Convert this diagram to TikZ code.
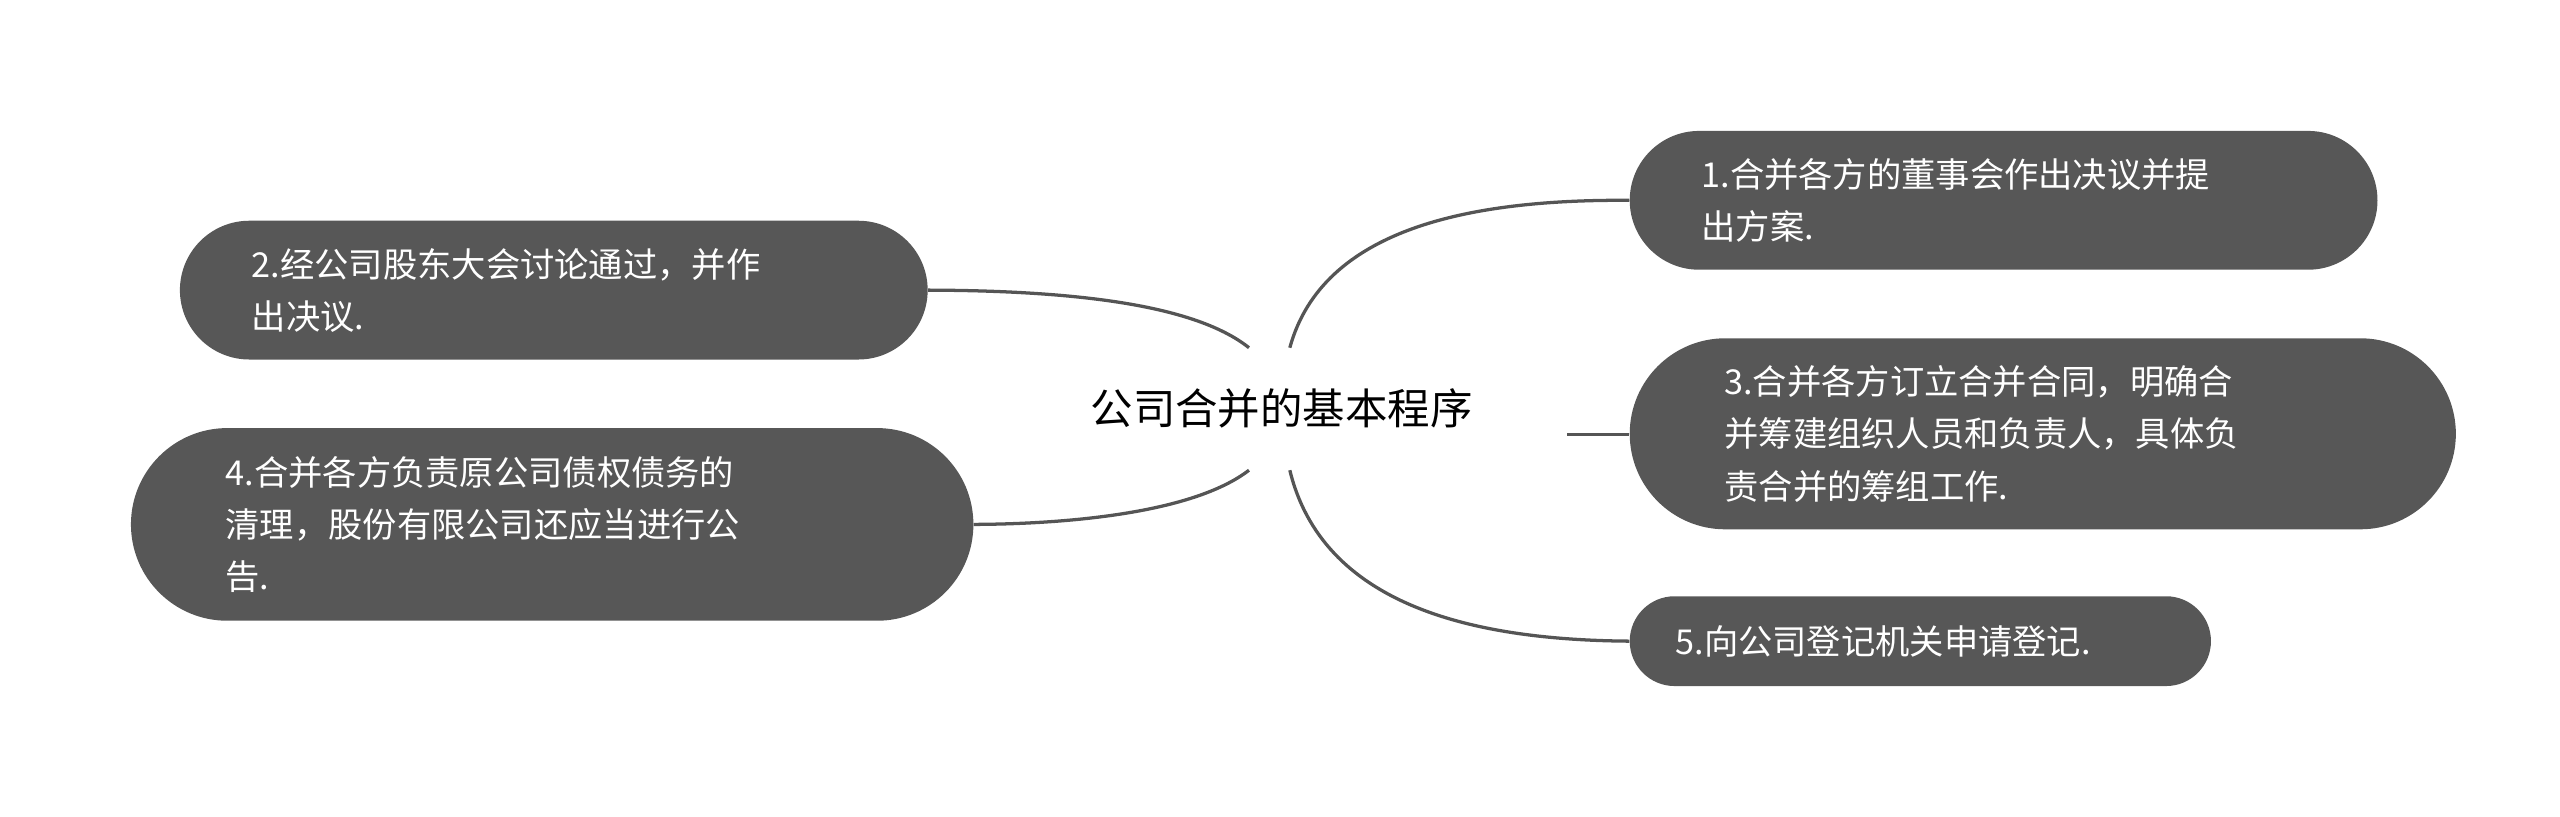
\documentclass[tikz,border=0pt]{standalone}
\usepackage{fontspec}
\setmainfont{Noto Sans CJK SC}
\begin{document}
\begin{tikzpicture}[x=1pt,y=-1pt,
  pill/.style={fill=boxgray,text=white,anchor=north west,align=left,inner ysep=0pt,
    font=\fontsize{21}{32}\selectfont},
  conn/.style={draw=linegray,line width=2pt}]
\definecolor{boxgray}{HTML}{575757}
\definecolor{linegray}{HTML}{555555}
\useasboundingbox (0,0) rectangle (1568,500);
\node[pill,minimum width=458,minimum height=85,text width=370,inner xsep=44,rounded corners=42.5] (n1) at (998,80) {1.合并各方的董事会作出决议并提\\出方案.};
\node[pill,minimum width=458,minimum height=85,text width=370,inner xsep=44,rounded corners=42.5] (n2) at (110,135) {2.经公司股东大会讨论通过，并作\\出决议.};
\node[pill,minimum width=490,minimum height=117,text width=390,inner xsep=58,rounded corners=58.5] (n3) at (998,207) {3.合并各方订立合并合同，明确合\\并筹建组织人员和负责人，具体负\\责合并的筹组工作.};
\node[pill,minimum width=488,minimum height=118,text width=400,inner xsep=58,rounded corners=59] (n4) at (80,262) {4.合并各方负责原公司债权债务的\\清理，股份有限公司还应当进行公\\告.};
\node[pill,minimum width=342,minimum height=55,text width=300,inner xsep=28,rounded corners=27.5] (n5) at (998,365) {5.向公司登记机关申请登记.};
\node[font=\fontsize{26}{30}\selectfont,inner sep=4pt] (c) at (785,250) {公司合并的基本程序};
\coordinate (c1) at (790,213);
\coordinate (c2) at (765,213);
\coordinate (c3) at (960,266);
\coordinate (c4) at (765,288);
\coordinate (c5) at (790,288);
\path[conn] (c1) .. controls (810,140) and (900,122) .. (n1.west);
\path[conn] (c2) .. controls (730,185) and (650,178) .. (n2.east);
\path[conn] (c3) -- (n3.west |- c3);
\path[conn] (c4) .. controls (730,315) and (650,321) .. (n4.east);
\path[conn] (c5) .. controls (810,370) and (900,392) .. (n5.west);
\end{tikzpicture}
\end{document}
